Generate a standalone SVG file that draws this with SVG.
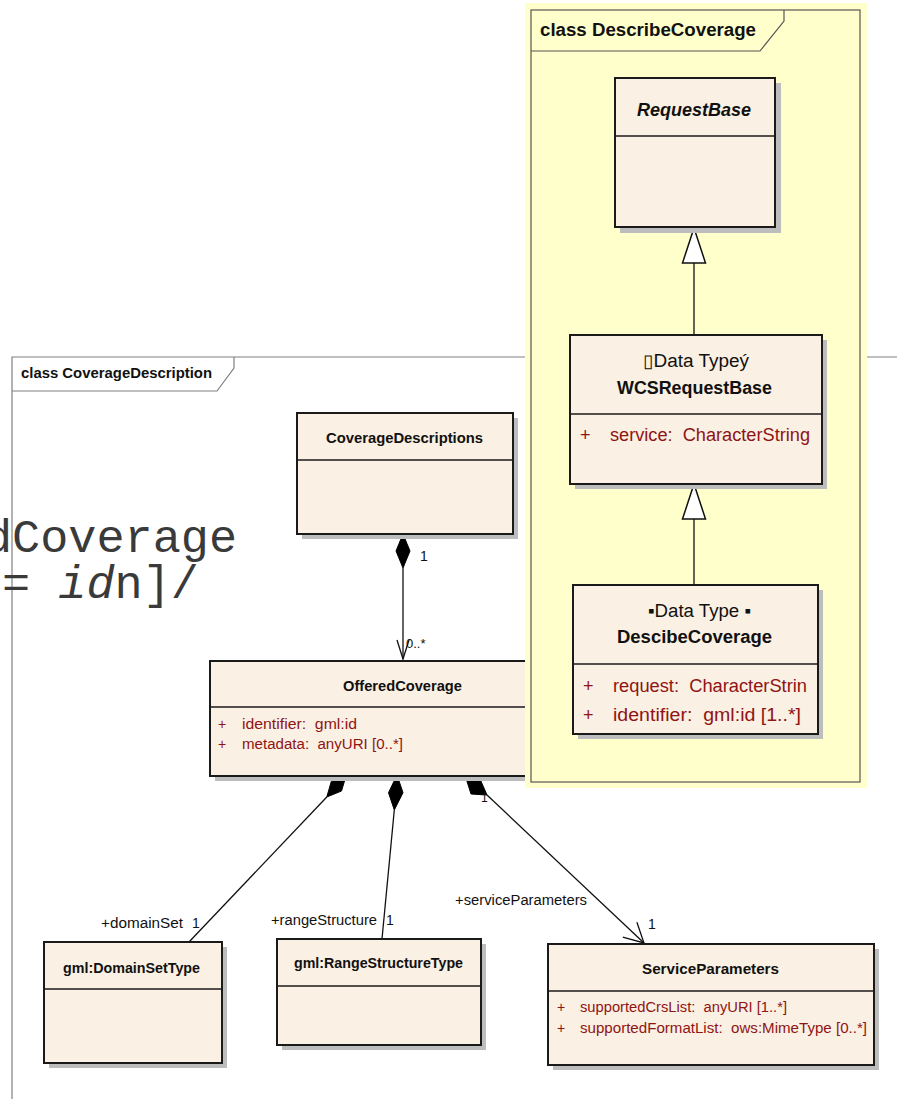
<svg xmlns="http://www.w3.org/2000/svg" width="897" height="1099" viewBox="0 0 897 1099">
<defs>
<style>
.t{font-family:"Liberation Sans",Arial,sans-serif;fill:#111;white-space:pre}
.b{font-weight:bold}
.a{fill:#8F1414}
.box{fill:#FAF0E3;stroke:#1a1a1a;stroke-width:2}
.sh{fill:#bdbdbd}
.div{stroke:#1a1a1a;stroke-width:1.5}
.fr{fill:none;stroke:#808080;stroke-width:1.2}
.ln{fill:none;stroke:#111;stroke-width:1.3}
.dm{fill:#000;stroke:#000;stroke-width:1}
.gen{fill:#fff;stroke:#111;stroke-width:1.5}
.mono{font-family:"Liberation Mono","Courier New",monospace;font-size:46px;fill:#3a3a3a}
</style>
</defs>
<rect x="0" y="0" width="897" height="1099" fill="#fff"/>

<g id="frame-CoverageDescription">
<path class="fr" d="M12,1099 V357 H897"/>
<path class="fr" d="M12,391 H217 L234,368 V357"/>
<text class="t b" x="21" y="378" font-size="15" textLength="191" lengthAdjust="spacingAndGlyphs">class CoverageDescription</text>
</g>

<g id="bg-text">
<text class="mono" x="-16" y="552" textLength="253" lengthAdjust="spacingAndGlyphs">dCoverage</text>
<text class="mono" x="2" y="598" textLength="197" lengthAdjust="spacingAndGlyphs">= <tspan font-style="italic">id</tspan>n]/</text>
</g>

<g id="connectors">
<path class="dm" d="M403,534 L410,551 L403,568 L396,551 Z"/>
<path class="ln" d="M403,568 V659"/>
<path class="ln" d="M397,640 L403,659 L409,640"/>
<path class="dm" d="M346,776 L341.5,791 L326.8,797 L331.3,781.4 Z"/>
<path class="ln" d="M326.8,797 L189,942"/>
<path class="dm" d="M397,775 L403,792.7 L394.3,810 L388.5,792.7 Z"/>
<path class="ln" d="M394.3,810 L382,939"/>
<path class="dm" d="M465,775 L480,779 L487,795 L471,794 Z"/>
<path class="ln" d="M487,795 L644,943"/>
<path class="ln" d="M636.9,922.2 L644,943 L622.8,937.2"/>
<text class="t" x="420" y="561" font-size="14">1</text>
<text class="t" x="406" y="648" font-size="13">0..*</text>
<text class="t" x="101" y="928" font-size="14" textLength="82" lengthAdjust="spacingAndGlyphs">+domainSet</text>
<text class="t" x="192" y="928" font-size="14">1</text>
<text class="t" x="271" y="925" font-size="14" textLength="106" lengthAdjust="spacingAndGlyphs">+rangeStructure</text>
<text class="t" x="386" y="925" font-size="14">1</text>
<text class="t" x="455" y="905" font-size="14" textLength="132" lengthAdjust="spacingAndGlyphs">+serviceParameters</text>
<text class="t" x="648" y="929" font-size="14">1</text>
<text class="t" x="481" y="802" font-size="12">1</text>
</g>

<g id="CoverageDescriptions">
<rect class="sh" x="302" y="418" width="216" height="121"/>
<rect class="box" x="297" y="413" width="216" height="121"/>
<line class="div" x1="297" y1="460" x2="513" y2="460"/>
<text class="t b" x="326" y="443" font-size="15" textLength="157" lengthAdjust="spacingAndGlyphs">CoverageDescriptions</text>
</g>

<g id="OfferedCoverage">
<rect class="sh" x="215" y="666" width="380" height="115"/>
<rect class="box" x="210" y="661" width="385" height="115"/>
<line class="div" x1="210" y1="707" x2="595" y2="707"/>
<text class="t b" x="343" y="691" font-size="15" textLength="119" lengthAdjust="spacingAndGlyphs">OfferedCoverage</text>
<text class="t a" x="218" y="729" font-size="14">+</text>
<text class="t a" x="242" y="729" font-size="14" textLength="115" lengthAdjust="spacingAndGlyphs">identifier:  gml:id</text>
<text class="t a" x="218" y="749" font-size="14">+</text>
<text class="t a" x="242" y="749" font-size="14" textLength="161" lengthAdjust="spacingAndGlyphs">metadata:  anyURI [0..*]</text>
</g>

<g id="DomainSetType">
<rect class="sh" x="49" y="947" width="178" height="121"/>
<rect class="box" x="44" y="942" width="178" height="121"/>
<line class="div" x1="44" y1="989" x2="222" y2="989"/>
<text class="t b" x="63" y="973" font-size="14" textLength="137" lengthAdjust="spacingAndGlyphs">gml:DomainSetType</text>
</g>

<g id="RangeStructureType">
<rect class="sh" x="282" y="944" width="204" height="106"/>
<rect class="box" x="277" y="939" width="204" height="106"/>
<line class="div" x1="277" y1="986" x2="481" y2="986"/>
<text class="t b" x="294" y="968" font-size="14" textLength="169" lengthAdjust="spacingAndGlyphs">gml:RangeStructureType</text>
</g>

<g id="ServiceParameters">
<rect class="sh" x="553" y="949" width="326" height="121"/>
<rect class="box" x="548" y="944" width="326" height="121"/>
<line class="div" x1="548" y1="991" x2="874" y2="991"/>
<text class="t b" x="642" y="974" font-size="15" textLength="137" lengthAdjust="spacingAndGlyphs">ServiceParameters</text>
<text class="t a" x="557" y="1012" font-size="14">+</text>
<text class="t a" x="580" y="1012" font-size="14" textLength="207" lengthAdjust="spacingAndGlyphs">supportedCrsList:  anyURI [1..*]</text>
<text class="t a" x="557" y="1033" font-size="14">+</text>
<text class="t a" x="580" y="1033" font-size="14" textLength="287" lengthAdjust="spacingAndGlyphs">supportedFormatList:  ows:MimeType [0..*]</text>
</g>

<g id="frame-DescribeCoverage">
<rect x="525" y="3" width="342" height="785" fill="#FFFFCC"/>
<rect x="531" y="10" width="329" height="772" fill="none" stroke="#555" stroke-width="1.2"/>
<path d="M531,51 H760 L784,21 V10" fill="none" stroke="#555" stroke-width="1.2"/>
<text class="t b" x="540" y="36" font-size="18" textLength="216" lengthAdjust="spacingAndGlyphs">class DescribeCoverage</text>
</g>

<g id="generalizations">
<path class="ln" d="M694,263 V335"/>
<path class="gen" d="M694,228 L705.5,263 L682.5,263 Z"/>
<path class="ln" d="M694,519 V585"/>
<path class="gen" d="M694,484 L705.5,519 L682.5,519 Z"/>
</g>

<g id="RequestBase">
<rect class="sh" x="620" y="83" width="161" height="150"/>
<rect class="box" x="615" y="78" width="160" height="149"/>
<line class="div" x1="615" y1="136" x2="775" y2="136"/>
<text class="t b" x="637" y="116" font-size="18" font-style="italic" textLength="114" lengthAdjust="spacingAndGlyphs">RequestBase</text>
</g>

<g id="WCSRequestBase">
<rect class="sh" x="575" y="340" width="252" height="149"/>
<rect class="box" x="570" y="335" width="252" height="149"/>
<line class="div" x1="570" y1="414" x2="822" y2="414"/>
<text class="t" x="643" y="367" font-size="18" textLength="106" lengthAdjust="spacingAndGlyphs">▯Data Typeý</text>
<text class="t b" x="617" y="394" font-size="18" textLength="155" lengthAdjust="spacingAndGlyphs">WCSRequestBase</text>
<text class="t a" x="580" y="441" font-size="18">+</text>
<text class="t a" x="610" y="441" font-size="18" textLength="200" lengthAdjust="spacingAndGlyphs">service:  CharacterString</text>
</g>

<g id="DescibeCoverage">
<rect class="sh" x="578" y="590" width="245" height="149"/>
<rect class="box" x="573" y="585" width="245" height="149"/>
<line class="div" x1="573" y1="664" x2="818" y2="664"/>
<text class="t" x="648" y="617" font-size="18" textLength="103" lengthAdjust="spacingAndGlyphs">▪Data Type ▪</text>
<text class="t b" x="617" y="643" font-size="18" textLength="155" lengthAdjust="spacingAndGlyphs">DescibeCoverage</text>
<text class="t a" x="583" y="692" font-size="18">+</text>
<text class="t a" x="613" y="692" font-size="18" textLength="194" lengthAdjust="spacingAndGlyphs">request:  CharacterStrin</text>
<text class="t a" x="583" y="721" font-size="18">+</text>
<text class="t a" x="613" y="721" font-size="18" textLength="188" lengthAdjust="spacingAndGlyphs">identifier:  gml:id [1..*]</text>
</g>
</svg>
